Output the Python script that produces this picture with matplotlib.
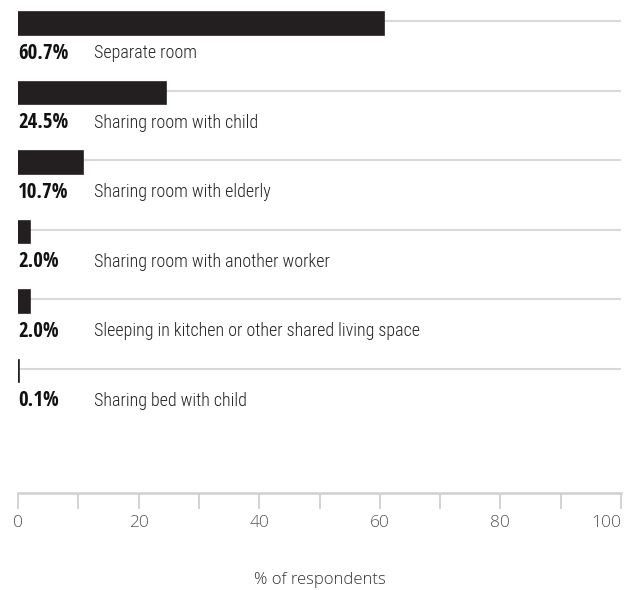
import matplotlib.pyplot as plt
from matplotlib import font_manager
from matplotlib.font_manager import FontProperties
import numpy as np

categories = ["Separate room", "Sharing room with child", "Sharing room with elderly",
              "Sharing room with another worker",
              "Sleeping in kitchen or other shared living space", "Sharing bed with child"]
values = [60.7, 24.5, 10.7, 2.0, 2.0, 0.1]
value_labels = ["60.7%", "24.5%", "10.7%", "2.0%", "2.0%", "0.1%"]
major_ticks = [0, 20, 40, 60, 80, 100]
minor_ticks = [10, 30, 50, 70, 90]


def find_light(names):
    # pick a light condensed face file if one is installed
    entries = font_manager.fontManager.ttflist
    for n in names:
        for f in entries:
            if f.name == n and f.style == "normal" and isinstance(f.weight, int) and 200 <= f.weight <= 350:
                return FontProperties(fname=f.fname)
    return FontProperties(family=["Open Sans Condensed"], weight="light")


light_fp = find_light(["Open Sans Condensed", "Roboto Condensed", "IBM Plex Sans Condensed",
                       "Fira Sans Condensed", "Encode Sans Condensed"])

fig = plt.figure(figsize=(6.24, 5.9), dpi=100)
ax = fig.add_axes([18 / 624, 97 / 590, 603 / 624, 493 / 590])

y = np.arange(len(categories))
ax.barh(y, values, height=0.33, color="#231f20", edgecolor="#231f20", linewidth=1.2, zorder=3)
for yi, v in zip(y, values):
    ax.plot([v, 100], [yi - 0.03, yi - 0.03], color="#d9d9d9", lw=1.5, zorder=2,
            solid_capstyle="butt")
for yi, lab, cat in zip(y, value_labels, categories):
    ax.text(0, yi + 0.43, lab, family=["Open Sans Condensed", "DejaVu Sans"],
            weight="bold", fontsize=15, color="#111111", va="center", ha="left")
    fp = light_fp.copy()
    fp.set_size(13)
    ax.text(12.6, yi + 0.43, cat, fontproperties=fp,
            color="#222222", va="center", ha="left")

ax.set_xlim(0, 100)
ax.set_ylim(6.755, -0.338)
ax.set_yticks([])
for s in ["top", "right", "left"]:
    ax.spines[s].set_visible(False)
ax.spines["bottom"].set_color("#d0d0d0")
ax.spines["bottom"].set_linewidth(1.8)
ax.set_xticks(major_ticks)
ax.set_xticks(minor_ticks, minor=True)
ax.tick_params(axis="x", which="both", length=11.5, width=1.3, color="#d0d0d0",
               labelsize=12.5, labelcolor="#555555", pad=4)
for t in ax.get_xticklabels():
    t.set_family("Open Sans")
    t.set_fontweight("light")
ax.get_xticklabels()[-1].set_horizontalalignment("right")
ax.set_xlabel("% of respondents", family="Open Sans", fontweight="light",
              fontsize=12, color="#333333", labelpad=30)

fig.savefig("out.png", dpi=100)
